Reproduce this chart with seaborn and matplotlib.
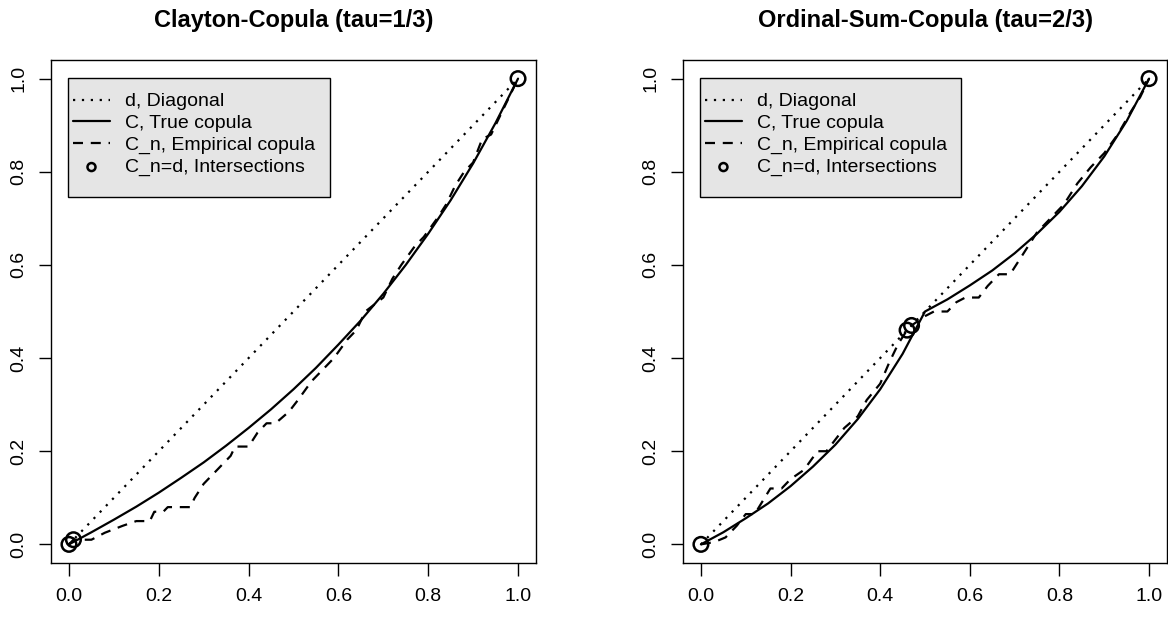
import numpy as np
import pandas as pd
import matplotlib
matplotlib.use("Agg")
import matplotlib.pyplot as plt
from matplotlib.patches import Rectangle
import seaborn as sns

# grid for the true copula diagonals
u_grid = [0.0, 0.05, 0.1, 0.15, 0.2, 0.25, 0.3, 0.35, 0.4, 0.45, 0.5,
          0.55, 0.6, 0.65, 0.7, 0.75, 0.8, 0.85, 0.9, 0.95, 1.0]
clayton_true = [0.0, 0.026, 0.053, 0.081, 0.111, 0.143, 0.176, 0.212, 0.25, 0.29, 0.333,
                0.379, 0.429, 0.481, 0.538, 0.6, 0.667, 0.739, 0.818, 0.905, 1.0]
ordsum_true = [0.0, 0.026, 0.056, 0.088, 0.125, 0.167, 0.214, 0.269, 0.333, 0.409, 0.5,
               0.526, 0.556, 0.588, 0.625, 0.667, 0.714, 0.769, 0.833, 0.909, 1.0]

# empirical copula diagonals
clayton_emp_x = [0, 0.01, 0.05, 0.08, 0.12, 0.15, 0.18, 0.19, 0.21, 0.22, 0.27, 0.28, 0.30,
                 0.33, 0.36, 0.37, 0.40, 0.42, 0.44, 0.46, 0.49, 0.51, 0.54, 0.57, 0.59,
                 0.62, 0.64, 0.66, 0.70, 0.72, 0.74, 0.77, 0.79, 0.82, 0.84, 0.86, 0.88,
                 0.90, 0.92, 0.94, 0.96, 0.98, 1.0]
clayton_emp_y = [0, 0.01, 0.01, 0.025, 0.04, 0.05, 0.05, 0.07, 0.07, 0.08, 0.08, 0.10, 0.13,
                 0.16, 0.19, 0.21, 0.21, 0.24, 0.26, 0.26, 0.285, 0.31, 0.35, 0.38, 0.40,
                 0.44, 0.46, 0.50, 0.53, 0.57, 0.60, 0.64, 0.66, 0.70, 0.73, 0.77, 0.80,
                 0.82, 0.87, 0.88, 0.92, 0.96, 1.0]
ordsum_emp_x = [0, 0.03, 0.055, 0.08, 0.10, 0.12, 0.155, 0.18, 0.20, 0.23, 0.26, 0.28, 0.30,
                0.32, 0.35, 0.37, 0.40, 0.42, 0.44, 0.46, 0.47, 0.50, 0.52, 0.55, 0.57,
                0.59, 0.62, 0.64, 0.665, 0.69, 0.71, 0.73, 0.75, 0.78, 0.81, 0.84, 0.87,
                0.90, 0.93, 0.96, 0.98, 1.0]
ordsum_emp_y = [0, 0.005, 0.015, 0.04, 0.065, 0.065, 0.12, 0.12, 0.14, 0.16, 0.20, 0.20, 0.225,
                0.25, 0.275, 0.31, 0.345, 0.39, 0.43, 0.46, 0.47, 0.49, 0.50, 0.50, 0.52,
                0.53, 0.53, 0.555, 0.58, 0.58, 0.61, 0.64, 0.67, 0.70, 0.73, 0.775, 0.81,
                0.84, 0.88, 0.93, 0.96, 1.0]

# intersections C_n = d
clayton_cross = [0.0, 0.01, 1.0]
ordsum_cross = [0.0, 0.46, 0.47, 1.0]

titles = ["Clayton-Copula (tau=1/3)", "Ordinal-Sum-Copula (tau=2/3)"]
tick_vals = [0.0, 0.2, 0.4, 0.6, 0.8, 1.0]

sns.set_style("ticks")
plt.rcParams['font.family'] = ['Liberation Sans', 'DejaVu Sans']
plt.rcParams['text.color'] = 'black'

fig = plt.figure(figsize=(11.68, 6.17), dpi=100)
ax1 = fig.add_axes([51 / 1168, 54 / 617, 485 / 1168, 503 / 617])
ax2 = fig.add_axes([683 / 1168, 54 / 617, 484 / 1168, 503 / 617])

panels = [
    (ax1, clayton_true, clayton_emp_x, clayton_emp_y, clayton_cross),
    (ax2, ordsum_true, ordsum_emp_x, ordsum_emp_y, ordsum_cross),
]

for i, (ax, true_y, ex, ey, cross) in enumerate(panels):
    diag = pd.DataFrame({'u': [0.0, 1.0], 'c': [0.0, 1.0]})
    true_df = pd.DataFrame({'u': u_grid, 'c': true_y})
    emp_df = pd.DataFrame({'u': ex, 'c': ey})
    cross_df = pd.DataFrame({'u': cross, 'c': cross})

    sns.lineplot(data=diag, x='u', y='c', ax=ax, color='black', lw=1.6,
                 linestyle=(0, (1, 3)), label='d, Diagonal')
    sns.lineplot(data=true_df, x='u', y='c', ax=ax, color='black', lw=1.6,
                 label='C, True copula')
    sns.lineplot(data=emp_df, x='u', y='c', ax=ax, color='black', lw=1.6,
                 linestyle=(0, (4.5, 3.5)), label='C_n, Empirical copula')
    sns.scatterplot(data=cross_df, x='u', y='c', ax=ax, s=110, facecolor='none',
                    edgecolor='black', linewidth=1.8, label='C_n=d, Intersections', zorder=5)

    ax.set_xlim(-0.04, 1.04)
    ax.set_ylim(-0.04, 1.04)
    ax.set_xticks(tick_vals)
    ax.set_yticks(tick_vals)
    ax.set_xticklabels([f"{t:.1f}" for t in tick_vals])
    ax.set_yticklabels([f"{t:.1f}" for t in tick_vals], rotation=90, va='center')
    ax.set_xlabel('')
    ax.set_ylabel('')
    ax.tick_params(axis='both', direction='out', length=9, width=1, color='black',
                   labelsize=14, labelcolor='black')
    ax.tick_params(axis='x', pad=9)
    ax.tick_params(axis='y', pad=8)
    for s in ax.spines.values():
        s.set_visible(True)
        s.set_color('black')
        s.set_linewidth(1)

    # legend box (grey90 like R's bg)
    ax.add_patch(Rectangle((0.035, 0.7276), 0.54, 0.2366, transform=ax.transAxes,
                           facecolor='#e5e5e5', edgecolor='black', lw=1, zorder=6))
    handles, labels = ax.get_legend_handles_labels()
    leg = ax.legend(handles, labels, loc='upper left', bbox_to_anchor=(0.0454, 0.935),
                    bbox_transform=ax.transAxes, fontsize=14, frameon=False,
                    borderpad=0, labelspacing=0.22, handlelength=1.9, handletextpad=0.77,
                    markerscale=0.55, borderaxespad=0)
    leg.set_zorder(7)
    for t in leg.get_texts():
        t.set_color('black')

    ax.set_title(titles[i], fontsize=17, fontweight='bold', pad=24, color='black')

fig.savefig('out.png', dpi=100)
